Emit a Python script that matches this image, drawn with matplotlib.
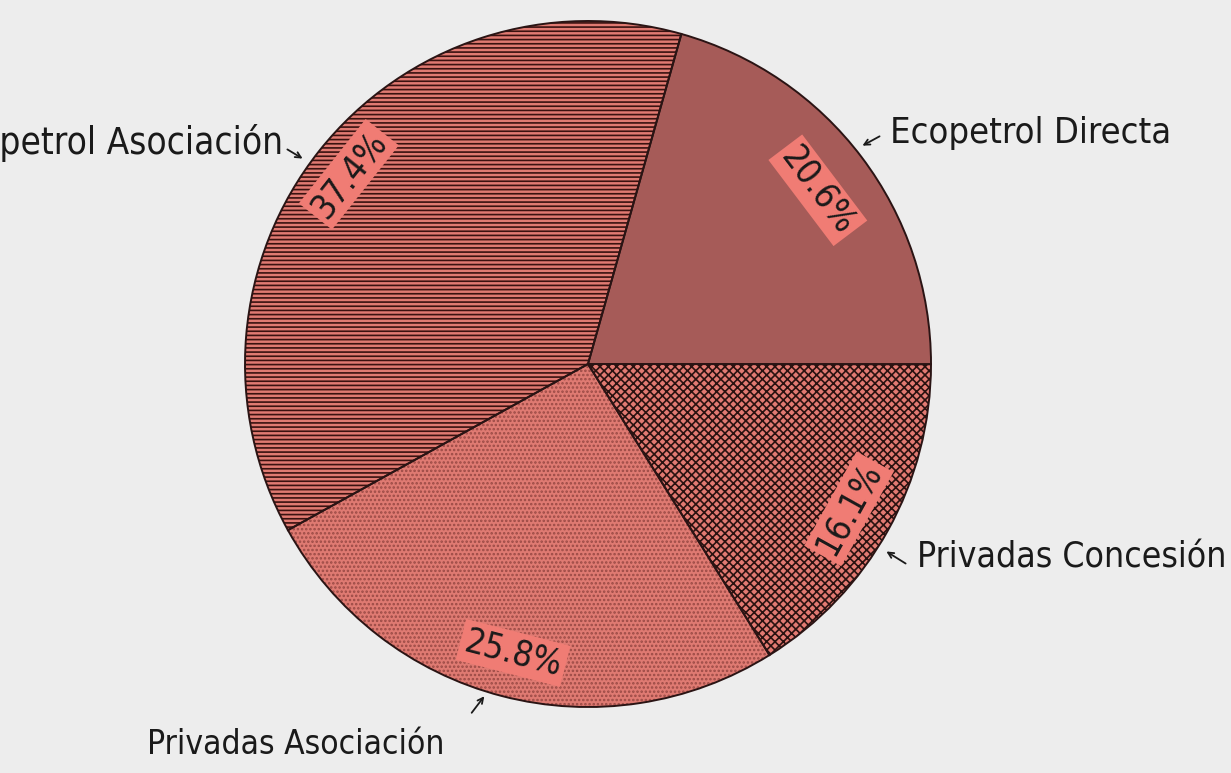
import matplotlib.pyplot as plt
import numpy as np

# Producción de crudo por tipo de contrato (%)
labels = ['Ecopetrol Directa', 'Privadas Concesión', 'Privadas Asociación', 'Ecopetrol Asociación']
shares = [20.6, 16.1, 25.8, 37.4]
pct_text = ['20.6%', '16.1%', '25.8%', '37.4%']

face = ['#a65b58', '#e27a72', '#df7a72', '#e07a72']
hatch_col = ['#a65b58', '#2a1210', '#9a4a45', '#3a1210']
hatches = [None, 'xxxx', '....', '----']

plt.rcParams['hatch.linewidth'] = 1.2

W, H = 1231, 773
fig = plt.figure(figsize=(W / 100, H / 100), dpi=100)
fig.patch.set_facecolor('#ededed')
ax = fig.add_axes([0, 0, 1, 1])
ax.set_facecolor('#ededed')

cx, cy, R = 588, H - 364, 343

# fill + hatch (hatch takes the edge colour)
wedges, _ = ax.pie(shares, startangle=74.2, counterclock=False, center=(cx, cy),
                   radius=R, colors=face, frame=True,
                   wedgeprops=dict(linewidth=0))
for w, hc, ht in zip(wedges, hatch_col, hatches):
    w.set_edgecolor(hc)
    if ht:
        w.set_hatch(ht)
# outlines
ax.pie(shares, startangle=74.2, counterclock=False, center=(cx, cy), radius=R,
       colors=['none'] * 4, frame=True,
       wedgeprops=dict(edgecolor='#2a1414', linewidth=1.4))

ax.set_xlim(0, W)
ax.set_ylim(0, H)
ax.set_aspect('equal')
ax.axis('off')

font = ['Liberation Sans Narrow', 'DejaVu Sans']
tkw = dict(family=font, stretch='condensed', color='#1a1a1a')

# percent labels, tangential, near the rim
rfrac = [0.84, 0.87, 0.87, 0.89]
for w, t, rf in zip(wedges, pct_text, rfrac):
    mid = (w.theta1 + w.theta2) / 2
    x = cx + rf * R * np.cos(np.radians(mid))
    y = cy + rf * R * np.sin(np.radians(mid))
    rot = mid + 90
    while rot > 90:
        rot -= 180
    while rot < -90:
        rot += 180
    ax.text(x, y, t, rotation=rot, rotation_mode='anchor', ha='center', va='center',
            fontsize=25, bbox=dict(boxstyle='square,pad=0.12', fc='#f07c74', ec='none'),
            **tkw)

# outside labels with little arrows
ax.text(890, H - 133, 'Ecopetrol Directa', fontsize=26, ha='left', va='center', **tkw)
ax.annotate('', xy=(860, H - 147), xytext=(882, H - 135),
            arrowprops=dict(arrowstyle='->', color='#1a1a1a', lw=1.3))

ax.text(283, H - 143, 'Ecopetrol Asociación', fontsize=26.5, ha='right', va='center', **tkw)
ax.annotate('', xy=(305, H - 160), xytext=(285, H - 148),
            arrowprops=dict(arrowstyle='->', color='#1a1a1a', lw=1.3))

ax.text(917, H - 557, 'Privadas Concesión', fontsize=25.5, ha='left', va='center', **tkw)
ax.annotate('', xy=(884, H - 550), xytext=(908, H - 565),
            arrowprops=dict(arrowstyle='->', color='#1a1a1a', lw=1.3))

ax.text(147, H - 745, 'Privadas Asociación', fontsize=24, ha='left', va='center', **tkw)
ax.annotate('', xy=(486, H - 694), xytext=(470, H - 715),
            arrowprops=dict(arrowstyle='->', color='#1a1a1a', lw=1.3))

fig.savefig('out.png', dpi=100, facecolor=fig.get_facecolor())
